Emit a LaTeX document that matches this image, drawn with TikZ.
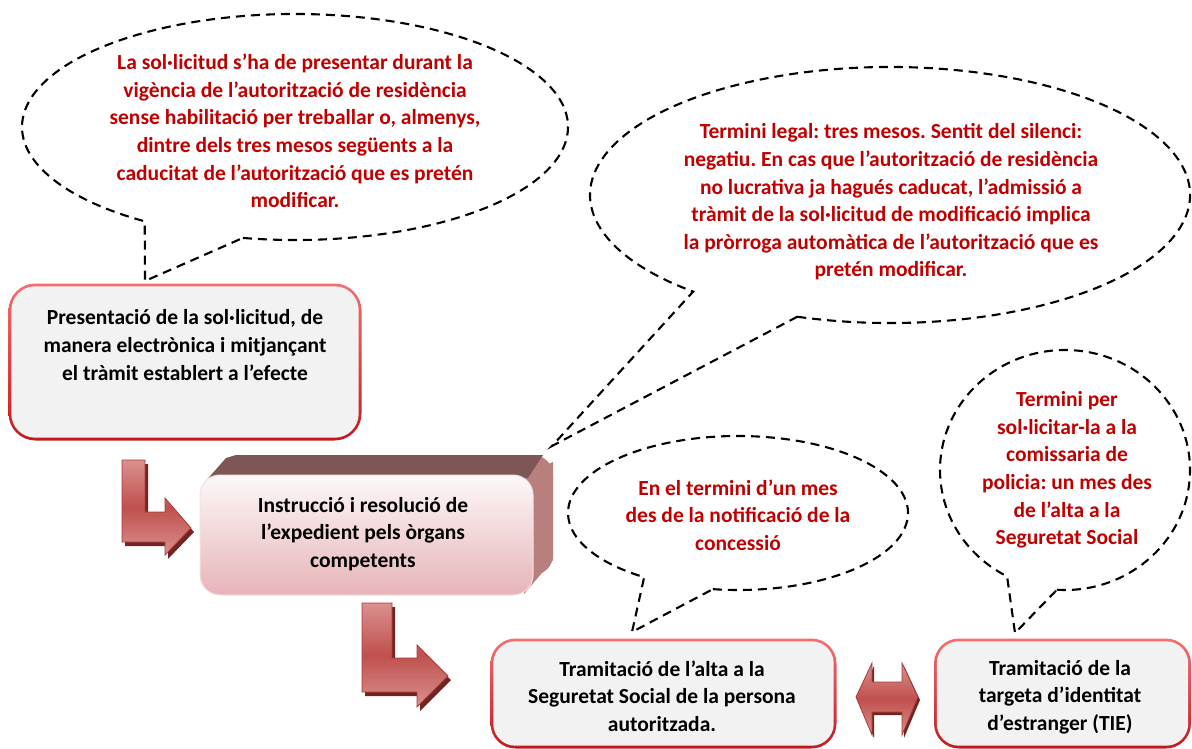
\documentclass[tikz,border=0pt]{standalone}
\usepackage{fontspec}
\setmainfont{Carlito}
\usetikzlibrary{calc}
\definecolor{txtred}{RGB}{192,0,0}
\definecolor{boxgray}{RGB}{242,242,242}
\definecolor{borderhi}{RGB}{245,110,112}
\definecolor{borderlo}{RGB}{195,25,30}
\definecolor{topface}{RGB}{127,86,86}
\definecolor{sideface}{RGB}{185,127,127}
\definecolor{fronthi}{RGB}{253,248,248}
\definecolor{frontlo}{RGB}{231,180,184}
\definecolor{frontline}{RGB}{242,225,227}
\definecolor{arrmid}{RGB}{192,80,77}
\definecolor{arrlight}{RGB}{218,145,143}
\definecolor{arrdark}{RGB}{115,35,35}
\definecolor{arredge}{RGB}{165,60,58}
\frenchspacing
\begin{document}
\begin{tikzpicture}[x=1pt,y=-1pt,
  callout/.style={draw=black, dash pattern=on 9pt off 6pt, line width=2.1pt},
  ctext/.style={text=txtred, font=\fontsize{21.5}{27.6}\selectfont\bfseries, align=center, inner sep=0pt},
  btext/.style={text=black, font=\fontsize{21.5}{27.6}\selectfont\bfseries, align=center, inner sep=0pt},
  procbox/.style={rectangle, rounded corners=27pt, top color=borderhi, bottom color=borderlo, draw=none, inner sep=0pt, outer sep=0pt},
  procinner/.style={fill=boxgray, rounded corners=24pt},
  frontbox/.style={rectangle, rounded corners=20pt, top color=fronthi, bottom color=frontlo, draw=frontline, line width=1pt, inner sep=0pt},
  arrowshape/.style={top color=arrlight, bottom color=arrlight, middle color=arrmid, draw=arredge, line width=0.8pt},
  shadowshape/.style={fill=arrdark}
]
\useasboundingbox (0,0) rectangle (1192,749);

% ---------- process boxes ----------
\node[procbox, minimum width=353pt, minimum height=157pt] (b1) at (185,362) {};
\fill[procinner] ($(b1.north west)+(2.8,2.8)$) rectangle ($(b1.south east)-(2.8,2.8)$);
\node[btext] (t1) at (185,345) {Presentació de la sol·licitud, de\\manera electrònica i mitjançant\\el tràmit establert a l’efecte};

% 3D box
\fill[sideface, rounded corners=20pt] (220,455) rectangle (553,575);
\fill[topface] (204,483) -- (226,458) -- (236,455) -- (543,455) -- (528,478) -- cycle;
\fill[sideface] (533,470) -- (553,462) -- (553,560) -- (524,594) -- cycle;
\node[frontbox, minimum width=333pt, minimum height=120pt] (b2) at (366.5,535) {};
\node[btext] (t2) at (363,534) {Instrucció i resolució de\\l’expedient pels òrgans\\competents};

\node[procbox, rounded corners=25pt, minimum width=346pt, minimum height=110pt] (b3) at (663.5,693.5) {};
\fill[procinner, rounded corners=22pt] ($(b3.north west)+(2.8,2.8)$) rectangle ($(b3.south east)-(2.8,2.8)$);
\node[btext] (t3) at (662,696) {Tramitació de l’alta a la\\Seguretat Social de la persona\\autoritzada.};

\node[procbox, rounded corners=25pt, minimum width=257pt, minimum height=110pt] (b4) at (1062.5,693.5) {};
\fill[procinner, rounded corners=22pt] ($(b4.north west)+(2.8,2.8)$) rectangle ($(b4.south east)-(2.8,2.8)$);
\node[btext] (t4) at (1060,697) {Tramitació de la\\targeta d’identitat\\d’estranger (TIE)};

% ---------- bent arrows ----------
\fill[shadowshape, shift={(3,4)}] (122,460) -- (145,460) -- (145,512) -- (165,512) -- (165,498) -- (191,528) -- (165,555) -- (165,542) -- (122,542) -- cycle;
\path[arrowshape] (122,460) -- (145,460) -- (145,512) -- (165,512) -- (165,498) -- (191,528) -- (165,555) -- (165,542) -- (122,542) -- cycle;

\fill[shadowshape, shift={(3,4)}] (362,603) -- (392,603) -- (392,658) -- (417,658) -- (417,645) -- (448,676) -- (417,707) -- (417,692) -- (362,692) -- cycle;
\path[arrowshape] (362,603) -- (392,603) -- (392,658) -- (417,658) -- (417,645) -- (448,676) -- (417,707) -- (417,692) -- (362,692) -- cycle;

% double arrow
\fill[shadowshape, shift={(2,3)}] (856,697) -- (872,663) -- (872,682) -- (902,682) -- (902,663) -- (918,697) -- (902,735) -- (902,712) -- (872,712) -- (872,735) -- cycle;
\path[arrowshape] (856,697) -- (872,663) -- (872,682) -- (902,682) -- (902,663) -- (918,697) -- (902,735) -- (902,712) -- (872,712) -- (872,735) -- cycle;

% ---------- callouts ----------
\coordinate (tip1) at (145,281);
\coordinate (tip2) at (552,446);
\coordinate (tip3) at (632,632);
\coordinate (tip4) at (1015,633);

\draw[callout] ($(295,127)+(101:273 and 113)$) arc[start angle=101, end angle=-236.6, x radius=273, y radius=113] -- (tip1) -- cycle;
\node[ctext] (c1) at (295,131) {La sol·licitud s’ha de presentar durant la\\vigència de l’autorització de residència\\sense  habilitació per treballar o, almenys,\\dintre dels tres mesos  següents a la\\caducitat de l’autorització que es pretén\\modificar.};

\draw[callout] ($(890,195)+(108:300 and 128)$) arc[start angle=108, end angle=-229, x radius=300, y radius=128] -- (tip2) -- cycle;
\node[ctext] (c2) at (891,202) {Termini legal: tres mesos.  Sentit del silenci:\\negatiu. En cas que l’autorització de residència\\no lucrativa ja hagués caducat, l’admissió a\\tràmit de la sol·licitud de modificació implica\\la pròrroga automàtica de l’autorització que es\\pretén modificar.};

\draw[callout] ($(738,513)+(98.5:170 and 77)$) arc[start angle=98.5, end angle=-236.5, x radius=170, y radius=77] -- (tip3) -- cycle;
\node[ctext] (c3) at (738,515) {En el termini d’un mes\\des de la notificació de la\\concessió};

\draw[callout] ($(1065,470)+(93.7:125 and 120)$) arc[start angle=93.7, end angle=-242.4, x radius=125, y radius=120] -- (tip4) -- cycle;
\node[ctext] (c4) at (1067,470) {Termini per\\sol·licitar-la a la\\comissaria de\\policia: un mes des\\de l’alta a la\\Seguretat Social};
\end{tikzpicture}
\end{document}
